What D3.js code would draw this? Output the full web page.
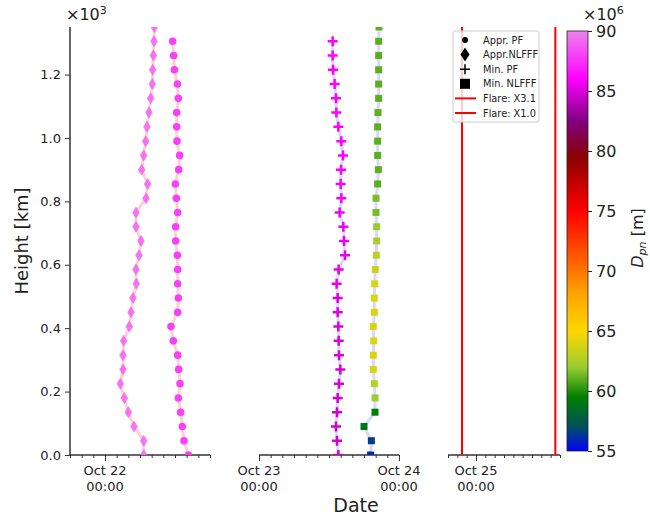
<!DOCTYPE html>
<html>
<head>
<meta charset="utf-8">
<script src="https://cdn.jsdelivr.net/npm/d3@7"></script>
<style>
  body { margin: 0; background: #fff; }
  text { font-family: "DejaVu Sans", sans-serif; fill: #222; }
</style>
</head>
<body>
<div id="chart"></div>
<script>
// heights [km]
var heights = [1350, 1305, 1260, 1215, 1170, 1125, 1080, 1035, 990, 945, 900, 855, 810, 765, 720,
  675, 630, 585, 540, 495, 450, 405, 360, 315, 270, 225, 180, 135, 90, 45, 0];

// Appr. NLFFF: hours after 2014-10-22 00:00 UT (one per height)
var apprNlfffHours = [8.46, 8.40, 8.29, 8.17, 8.11, 7.83, 7.54, 7.20, 6.97, 6.63, 6.29, 7.31, 7.03, 5.31, 5.31,
  6.17, 5.83, 5.31, 5.37, 4.80, 4.46, 4.17, 3.20, 3.09, 3.09, 2.63, 3.31, 4.00, 4.97, 6.63, 6.63];
// Appr. PF: hours after 2014-10-22 00:00 UT (heights 1305 .. 0)
var apprPfHours = [11.60, 11.77, 11.89, 12.40, 12.57, 12.29, 12.29, 12.34, 12.80, 12.63, 12.06, 12.23, 12.46, 12.11,
  12.11, 12.40, 12.46, 12.46, 12.57, 12.46, 11.31, 11.71, 12.46, 12.63, 12.86, 12.57, 12.97, 13.26, 13.54, 14.29];
// Min. PF: hours after 2014-10-23 00:00 UT (heights 1305 .. 0)
var minPfHours = [12.63, 12.63, 12.69, 12.97, 13.20, 13.26, 13.60, 14.11, 14.40, 14.06, 14.00, 14.11, 13.83, 14.46,
  14.57, 14.74, 13.66, 13.31, 13.49, 13.49, 13.60, 13.66, 13.71, 13.94, 13.71, 13.49, 13.37, 13.20, 13.37, 13.60];
// Min. NLFFF: hours after 2014-10-23 00:00 UT (heights 1350 .. 0)
var minNlfffHours = [20.57, 20.51, 20.51, 20.51, 20.51, 20.51, 20.40, 20.34, 20.34, 20.34, 20.46, 20.34, 20.06, 20.06,
  20.17, 20.17, 20.11, 19.94, 19.83, 19.77, 19.77, 19.60, 19.66, 19.60, 19.60, 19.77, 19.89, 19.89, 18.00, 19.26, 19.14];

// D_pn values (x10^6 m)
var apprNlfffD = [89, 89, 89, 89, 89, 89, 89, 89, 89, 89, 89, 89, 89, 89, 89, 89,
  89, 89, 89, 89, 89, 89, 89, 89, 89, 89, 89, 89, 89, 89, 89];
var apprPfD = [88, 88, 88, 88, 88, 88, 88, 88, 88, 88, 88, 88, 88, 88, 88,
  88, 88, 88, 88, 88, 88, 88, 88, 88, 88, 88, 88, 88, 88, 88];
var minPfD = [86, 86, 86, 86, 86, 86, 86, 86, 86, 86, 85.9, 85.8, 85.7, 85.6, 85.6,
  85.5, 85.4, 85.3, 85.2, 85.2, 85.1, 85, 85, 84.9, 84.9, 84.8, 84.8, 84.8, 84.8, 84.8];
var minNlfffD = [61, 61, 61, 61, 61, 61, 61, 61, 61, 61, 61, 61, 61.5, 61.5, 62,
  62.5, 63, 63.5, 64, 64, 64, 64, 64, 64, 64, 63, 62, 59.5, 59, 56.5, 56];

// flares
var flareNames = ["Flare: X3.1", "Flare: X1.0"];
var flareTimes = ["2014-10-24T21:00Z", "2014-10-25T17:00Z"];

// colorbar
var cbStops = [55, 57, 59.5, 62, 65, 68, 72, 75, 79.5, 82.5, 86, 90];
var cbColors = ["#0000ff", "#005060", "#008000", "#9acd32", "#ffd700", "#ffa500",
  "#ff4500", "#ff0000", "#8b0000", "#800080", "#ff00ff", "#ee82ee"];
var cbTicks = [55, 60, 65, 70, 75, 80, 85, 90];
var yTicks = [0, 200, 400, 600, 800, 1000, 1200];

var W = 650, H = 519;
var yTop = 27, yBot = 455;
var svg = d3.select("#chart").append("svg").attr("width", W).attr("height", H);

var y = d3.scaleLinear().domain([0, 1350]).range([yBot, yTop]);
var color = d3.scaleLinear().domain(cbStops).range(cbColors);

function at(day, h) { return new Date(Date.parse(day) + h * 3600e3); }

var panels = [
  { x0: 70, x1: 210, d0: "2014-10-21T18:00Z", d1: "2014-10-22T18:00Z" },
  { x0: 259, x1: 399, d0: "2014-10-23T00:00Z", d1: "2014-10-24T00:00Z" },
  { x0: 448, x1: 560, d0: "2014-10-24T18:00Z", d1: "2014-10-25T18:00Z" }
];
panels.forEach(function(p, i) {
  p.x = d3.scaleUtc().domain([new Date(p.d0), new Date(p.d1)]).range([p.x0, p.x1]);
  svg.append("clipPath").attr("id", "clip" + i)
    .append("rect").attr("x", p.x0).attr("y", yTop).attr("width", p.x1 - p.x0).attr("height", yBot - yTop);
});

// x axes
panels.forEach(function(p) {
  var g = svg.append("g").attr("transform", "translate(0," + yBot + ")");
  g.append("g").call(d3.axisBottom(p.x).ticks(d3.utcHour.every(2)).tickSize(3).tickFormat(""))
    .call(function(a) { a.select(".domain").remove(); });
  var maj = g.append("g").call(d3.axisBottom(p.x).ticks(d3.utcDay.every(1)).tickSize(6).tickFormat(""));
  maj.select(".domain").remove();
  g.selectAll("line").attr("stroke", "#333").attr("stroke-width", 1);
  g.append("line").attr("x1", p.x0).attr("x2", p.x1).attr("stroke", "#333").attr("stroke-width", 1.5);
  p.x.ticks(d3.utcDay.every(1)).forEach(function(t) {
    var tx = g.append("text").attr("x", p.x(t)).attr("text-anchor", "middle").attr("font-size", 13);
    tx.append("tspan").attr("x", p.x(t)).attr("y", 20).text(d3.utcFormat("%b %d")(t));
    tx.append("tspan").attr("x", p.x(t)).attr("y", 36).text(d3.utcFormat("%H:%M")(t));
  });
});

// y axis
var yg = svg.append("g").attr("transform", "translate(70,0)")
  .call(d3.axisLeft(y).tickValues(yTicks).tickSize(5).tickPadding(4)
    .tickFormat(function(d) { return d3.format(".1f")(d / 1000); }));
yg.select(".domain").remove();
yg.selectAll("line").attr("stroke", "#333");
yg.selectAll("text").attr("font-size", 13).attr("fill", "#222").style("font-family", "DejaVu Sans");
yg.append("line").attr("y1", yTop).attr("y2", yBot).attr("stroke", "#333").attr("stroke-width", 1.5);

svg.append("text").attr("x", 66).attr("y", 20).attr("font-size", 16)
  .html("×10<tspan dy='-6' font-size='11'>3</tspan>");
svg.append("text").attr("transform", "translate(28,241) rotate(-90)")
  .attr("text-anchor", "middle").attr("font-size", 18).text("Height [km]");
svg.append("text").attr("x", 356).attr("y", 512).attr("text-anchor", "middle")
  .attr("font-size", 19).text("Date");

// markers
var diamond = "M0,-6L3.8,0L0,6L-3.8,0Z";
var plus = "M-5,0H5M0,-5V5";

function series(p, ci, day, hours, hs, ds, lineColor, draw) {
  var pts = hours.map(function(h, i) { return { t: at(day, h), h: hs[i], d: ds[i] }; });
  var g = svg.append("g").attr("clip-path", "url(#clip" + ci + ")");
  g.append("path").datum(pts)
    .attr("d", d3.line().x(function(d) { return p.x(d.t); }).y(function(d) { return y(d.h); }))
    .attr("fill", "none").attr("stroke", lineColor).attr("stroke-width", 3);
  draw(g.selectAll(null).data(pts).enter(), function(d) {
    return "translate(" + p.x(d.t) + "," + y(d.h) + ")";
  });
}

var p1 = panels[0], p2 = panels[1];
series(p1, 0, "2014-10-22T00:00Z", apprNlfffHours, heights, apprNlfffD, "#ffd0d0", function(e, tr) {
  e.append("path").attr("d", diamond).attr("transform", tr)
    .attr("fill", function(d) { return color(d.d); }).attr("opacity", 0.85);
});
series(p1, 0, "2014-10-22T00:00Z", apprPfHours, heights.slice(1), apprPfD, "#ffd0d0", function(e, tr) {
  e.append("circle").attr("r", 3.8).attr("transform", tr)
    .attr("fill", function(d) { return color(d.d); });
});
series(p2, 1, "2014-10-23T00:00Z", minPfHours, heights.slice(1), minPfD, "#d8d8ff", function(e, tr) {
  e.append("path").attr("d", plus).attr("transform", tr).attr("fill", "none")
    .attr("stroke", function(d) { return color(d.d); }).attr("stroke-width", 2.5);
});
series(p2, 1, "2014-10-23T00:00Z", minNlfffHours, heights, minNlfffD, "#d8d8ff", function(e, tr) {
  e.append("rect").attr("x", -3.5).attr("y", -3.5).attr("width", 7).attr("height", 7).attr("transform", tr)
    .attr("fill", function(d) { return color(d.d); });
});

// flare lines
var p3 = panels[2];
flareTimes.forEach(function(t) {
  svg.append("line").attr("x1", p3.x(new Date(t))).attr("x2", p3.x(new Date(t)))
    .attr("y1", yTop).attr("y2", yBot).attr("stroke", "#ff0000").attr("stroke-width", 2);
});

// legend
var lg = svg.append("g").attr("transform", "translate(453,31)");
lg.append("rect").attr("width", 86).attr("height", 91).attr("rx", 2)
  .attr("fill", "#fff").attr("fill-opacity", 0.8).attr("stroke", "#ccc");
var legendNames = ["Appr. PF", "Appr.NLFFF", "Min. PF", "Min. NLFFF"].concat(flareNames);
legendNames.forEach(function(name, i) {
  var ly = 9 + i * 14.6;
  var m = lg.append("g").attr("transform", "translate(12," + ly + ")");
  if (i === 0) m.append("circle").attr("r", 3).attr("fill", "#000");
  if (i === 1) m.append("path").attr("d", "M0,-7L4.5,0L0,7L-4.5,0Z").attr("fill", "#000");
  if (i === 2) m.append("path").attr("d", plus).attr("stroke", "#000").attr("stroke-width", 1.5);
  if (i === 3) m.append("rect").attr("x", -5).attr("y", -5).attr("width", 10).attr("height", 10).attr("fill", "#000");
  if (i >= 4) m.append("line").attr("x1", -10).attr("x2", 11).attr("stroke", "#ff0000").attr("stroke-width", 2);
  lg.append("text").attr("x", 30).attr("y", ly + 3.5).attr("font-size", 9.8).text(name);
});

// colorbar
var cbX = 567, cbW = 21, cbTop = 31, cbBot = 451;
var cy = d3.scaleLinear().domain([55, 90]).range([cbBot, cbTop]);
var grad = svg.append("defs").append("linearGradient").attr("id", "cbgrad")
  .attr("x1", 0).attr("y1", 1).attr("x2", 0).attr("y2", 0);
cbStops.forEach(function(s, i) {
  grad.append("stop").attr("offset", (s - 55) / 35).attr("stop-color", cbColors[i]);
});
svg.append("rect").attr("x", cbX).attr("y", cbTop).attr("width", cbW).attr("height", cbBot - cbTop)
  .attr("fill", "url(#cbgrad)").attr("stroke", "#222").attr("stroke-width", 0.8);
var cg = svg.append("g").attr("transform", "translate(" + (cbX + cbW) + ",0)")
  .call(d3.axisRight(cy).tickValues(cbTicks).tickSize(4).tickPadding(4));
cg.select(".domain").remove();
cg.selectAll("line").attr("stroke", "#222");
cg.selectAll("text").attr("font-size", 16).attr("fill", "#222").style("font-family", "DejaVu Sans");
svg.append("text").attr("x", 583).attr("y", 20).attr("font-size", 16)
  .html("×10<tspan dy='-6' font-size='11'>6</tspan>");
svg.append("text").attr("transform", "translate(643,238) rotate(-90)")
  .attr("text-anchor", "middle").attr("font-size", 16)
  .html("<tspan font-style='italic'>D</tspan><tspan font-style='italic' font-size='11' dy='3'>pn</tspan><tspan dy='-3'> [m]</tspan>");
</script>
</body>
</html>
